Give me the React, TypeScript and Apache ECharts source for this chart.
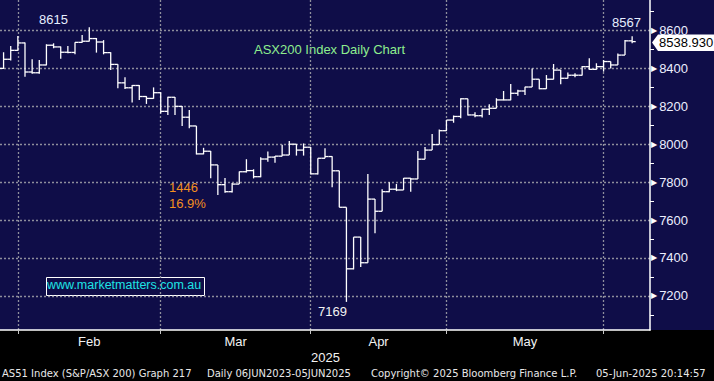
import React, { useEffect, useRef } from 'react';
import * as echarts from 'echarts';

const dates = [
  '2025-01-29', '2025-01-30', '2025-01-31',
  '2025-02-03', '2025-02-04', '2025-02-05', '2025-02-06', '2025-02-07', '2025-02-10', '2025-02-11', '2025-02-12', '2025-02-13', '2025-02-14',
  '2025-02-17', '2025-02-18', '2025-02-19', '2025-02-20', '2025-02-21', '2025-02-24', '2025-02-25', '2025-02-26', '2025-02-27', '2025-02-28',
  '2025-03-03', '2025-03-04', '2025-03-05', '2025-03-06', '2025-03-07', '2025-03-10', '2025-03-11', '2025-03-12', '2025-03-13', '2025-03-14',
  '2025-03-17', '2025-03-18', '2025-03-19', '2025-03-20', '2025-03-21', '2025-03-24', '2025-03-25', '2025-03-26', '2025-03-27', '2025-03-28', '2025-03-31',
  '2025-04-01', '2025-04-02', '2025-04-03', '2025-04-04', '2025-04-07', '2025-04-08', '2025-04-09', '2025-04-10', '2025-04-11',
  '2025-04-14', '2025-04-15', '2025-04-16', '2025-04-17', '2025-04-22', '2025-04-23', '2025-04-24', '2025-04-28', '2025-04-29', '2025-04-30',
  '2025-05-01', '2025-05-02', '2025-05-05', '2025-05-06', '2025-05-07', '2025-05-08', '2025-05-09', '2025-05-12', '2025-05-13', '2025-05-14',
  '2025-05-15', '2025-05-16', '2025-05-19', '2025-05-20', '2025-05-21', '2025-05-22', '2025-05-23', '2025-05-26', '2025-05-27', '2025-05-28',
  '2025-05-29', '2025-05-30',
  '2025-06-02', '2025-06-03', '2025-06-04', '2025-06-05',
];

const opens = [
  8398, 8446, 8493,
  8532, 8379, 8375, 8416, 8520, 8511, 8483, 8482, 8535, 8541,
  8555, 8537, 8481, 8419, 8322, 8296, 8308, 8250, 8240, 8270,
  8172, 8246, 8198, 8141, 8095, 7948, 7962, 7890, 7786, 7749,
  7789, 7854, 7860, 7828, 7921, 7931, 7936, 7942, 7999, 7968, 7983,
  7843, 7925, 7934, 7859, 7667, 7343, 7510, 7375, 7710,
  7646, 7749, 7762, 7758, 7820, 7816, 7920, 7968, 7997, 8070,
  8126, 8145, 8238, 8153, 8149, 8183, 8188, 8232, 8232, 8267,
  8279, 8300, 8341, 8291, 8341, 8389, 8346, 8362, 8362, 8407,
  8393, 8407,
  8434, 8416, 8468, 8543,
];

const highs = [
  8483, 8516, 8568,
  8534, 8446, 8442, 8525, 8530, 8513, 8516, 8536, 8574, 8615,
  8558, 8547, 8483, 8420, 8351, 8311, 8310, 8252, 8298, 8272,
  8249, 8248, 8200, 8179, 8095, 7980, 7963, 7890, 7821, 7795,
  7855, 7920, 7867, 7930, 7960, 7937, 7996, 8016, 8000, 8003, 7984,
  7925, 7978, 7936, 7859, 7667, 7510, 7510, 7842, 7710,
  7762, 7799, 7790, 7821, 7821, 7963, 7984, 8053, 8077, 8126,
  8150, 8241, 8238, 8167, 8186, 8209, 8241, 8279, 8316, 8286,
  8302, 8398, 8341, 8363, 8421, 8389, 8377, 8372, 8411, 8451,
  8425, 8442,
  8434, 8477, 8547, 8567,
];

const lows = [
  8395, 8440, 8490,
  8354, 8370, 8370, 8414, 8504, 8449, 8478, 8472, 8533, 8540,
  8481, 8472, 8389, 8293, 8290, 8218, 8232, 8211, 8238, 8161,
  8153, 8153, 8095, 8083, 7945, 7946, 7820, 7732, 7744, 7745,
  7789, 7850, 7819, 7825, 7907, 7902, 7935, 7942, 7939, 7939, 7840,
  7840, 7925, 7772, 7667, 7169, 7340, 7352, 7375, 7530,
  7646, 7746, 7752, 7758, 7749, 7816, 7920, 7968, 7997, 8068,
  8112, 8135, 8150, 8141, 8140, 8153, 8188, 8230, 8230, 8254,
  8258, 8300, 8288, 8290, 8340, 8314, 8345, 8351, 8360, 8391,
  8391, 8381,
  8398, 8416, 8468, 8530,
];

const closes = [
  8446, 8493, 8532,
  8379, 8375, 8416, 8520, 8511, 8483, 8482, 8535, 8541, 8555,
  8537, 8481, 8419, 8322, 8296, 8308, 8250, 8240, 8270, 8172,
  8246, 8198, 8141, 8095, 7948, 7962, 7890, 7786, 7749, 7789,
  7854, 7860, 7828, 7921, 7931, 7936, 7942, 7999, 7968, 7983, 7843,
  7925, 7934, 7859, 7667, 7343, 7510, 7375, 7710, 7646,
  7749, 7762, 7758, 7820, 7816, 7920, 7968, 7997, 8070, 8126,
  8145, 8238, 8153, 8149, 8183, 8188, 8232, 8232, 8267, 8279,
  8300, 8341, 8291, 8341, 8389, 8346, 8362, 8362, 8407, 8393,
  8407, 8434,
  8416, 8468, 8543, 8539,
];

// axis helpers
const monthEndIndex = [2, 22, 43, 62, 84];
const monthLabels = ['Feb', 'Mar', 'Apr', 'May'];
const monthLabelPos = [12, 32.5, 52.5, 73];
const majorTicks = [7200, 7400, 7600, 7800, 8000, 8200, 8400, 8600];
const minorTicks = [7100, 7300, 7500, 7700, 7900, 8100, 8300, 8500, 8700];
const yearLabel = '2025';
const lastPrice = '8538.930';
const highLabel = '8615';
const recentHighLabel = '8567';
const lowLabel = '7169';
const dropPoints = '1446';
const dropPercent = '16.9%';

const NAVY = '#0f0d48';
const GRID = '#8e8e9c';
const FONT = '"Liberation Sans", Arial, sans-serif';
const FOOT = '10px "DejaVu Sans", sans-serif';

export default function App() {
  const ref = useRef<HTMLDivElement>(null);

  useEffect(() => {
    if (!ref.current) return;
    const chart = echarts.init(ref.current, null, { renderer: 'svg' });
    const data = dates.map((d, i) => [i, opens[i], highs[i], lows[i], closes[i]]);
    const gridLine = { show: true, lineStyle: { color: GRID, type: [2, 2], width: 1.3 } };

    const option: any = {
      animation: false,
      backgroundColor: 'transparent',
      grid: { left: 0, top: 0, right: 64, bottom: 51, containLabel: false, outerBoundsMode: 'none' },
      xAxis: {
        type: 'value',
        min: -0.5,
        max: 90.5,
        axisLine: { show: true, onZero: false, lineStyle: { color: '#ffffff', width: 1.5 } },
        axisTick: { show: true, customValues: monthEndIndex, length: 4, lineStyle: { color: '#c8c8c8', width: 1 } },
        axisLabel: {
          customValues: monthLabelPos,
          formatter: (v: number) => {
            const k = monthLabelPos.indexOf(v);
            return k >= 0 ? monthLabels[k] : '';
          },
          color: '#f2f2f2',
          fontFamily: FONT,
          fontSize: 13,
          margin: 5,
        },
        splitLine: gridLine,
      },
      yAxis: [
        {
          type: 'value',
          position: 'right',
          min: 7021,
          max: 8758,
          axisLine: { show: true, onZero: false, lineStyle: { color: '#ffffff', width: 1.5 } },
          axisTick: { show: false, customValues: majorTicks },
          axisLabel: {
            customValues: majorTicks,
            margin: 1,
            formatter: (v: number) => '{t|▶}{v|' + v + '}',
            rich: {
              t: { color: '#ffffff', fontSize: 8, fontFamily: 'DejaVu Sans' },
              v: { color: '#eceeff', fontSize: 13, fontFamily: FONT, padding: [0, 0, 0, 2] },
            },
          },
          splitLine: gridLine,
        },
        {
          type: 'value',
          position: 'right',
          min: 7021,
          max: 8758,
          axisLine: { show: false, onZero: false },
          axisTick: { show: true, customValues: minorTicks, length: 4, lineStyle: { color: '#ffffff', width: 1 } },
          axisLabel: { show: false },
          splitLine: { show: false },
        },
      ],
      series: [
        {
          type: 'custom',
          xAxisIndex: 0,
          yAxisIndex: 0,
          encode: { x: 0, y: [1, 2, 3, 4] },
          data,
          clip: true,
          renderItem: (params: any, api: any) => {
            const x = api.value(0);
            const pO = api.coord([x, api.value(1)]);
            const pH = api.coord([x, api.value(2)]);
            const pL = api.coord([x, api.value(3)]);
            const pC = api.coord([x, api.value(4)]);
            const half = api.size([1, 0])[0] / 2;
            const style = { stroke: '#ffffff', lineWidth: 1.3, fill: 'none' };
            return {
              type: 'group',
              children: [
                { type: 'line', shape: { x1: pH[0], y1: pH[1], x2: pL[0], y2: pL[1] }, style },
                { type: 'line', shape: { x1: pO[0] - half, y1: pO[1], x2: pO[0], y2: pO[1] }, style },
                { type: 'line', shape: { x1: pC[0], y1: pC[1], x2: pC[0] + half, y2: pC[1] }, style },
              ],
            };
          },
        },
      ],
      graphic: [
        { type: 'text', left: 39, top: 13, style: { text: highLabel, fill: '#e6eeff', font: '13px ' + FONT } },
        { type: 'text', left: 612, top: 16, style: { text: recentHighLabel, fill: '#e6eeff', font: '13px ' + FONT } },
        { type: 'text', left: 318, top: 305, style: { text: lowLabel, fill: '#f2f2f2', font: '13px ' + FONT } },
        { type: 'text', left: 254, top: 43, style: { text: 'ASX200 Index Daily Chart', fill: '#8eee8e', font: '13px ' + FONT } },
        { type: 'text', left: 169, top: 181, style: { text: dropPoints, fill: '#f39020', font: '13px ' + FONT } },
        { type: 'text', left: 169, top: 197, style: { text: dropPercent, fill: '#f39020', font: '13px ' + FONT } },
        {
          type: 'rect', left: 44, top: 275,
          shape: { width: 158, height: 18 },
          style: { fill: 'none', stroke: '#ffffff', lineWidth: 1 },
        },
        { type: 'text', left: 47, top: 278, style: { text: 'www.marketmatters.com.au', fill: '#1ee4e4', font: '12.5px ' + FONT } },
        {
          type: 'polygon', z: 100,
          shape: { points: [[652, 42.5], [658, 34.5], [714, 34.5], [714, 51], [658, 51]] },
          style: { fill: '#ffffff' },
        },
        { type: 'text', z: 101, left: 659, top: 36, style: { text: lastPrice, fill: '#000000', font: '13px ' + FONT } },
        { type: 'text', left: 311, top: 351, style: { text: yearLabel, fill: '#f2f2f2', font: '13px ' + FONT } },
        { type: 'text', left: 2, top: 368, style: { text: 'AS51 Index (S&P/ASX 200) Graph 217', fill: '#e8e8e8', font: FOOT } },
        { type: 'text', left: 207, top: 368, style: { text: 'Daily 06JUN2023-05JUN2025', fill: '#e8e8e8', font: FOOT } },
        { type: 'text', left: 371, top: 368, style: { text: 'Copyright© 2025 Bloomberg Finance L.P.', fill: '#e8e8e8', font: FOOT } },
        { type: 'text', left: 596, top: 368, style: { text: '05-Jun-2025 20:14:57', fill: '#e8e8e8', font: FOOT } },
      ],
    };

    chart.setOption(option);
    return () => chart.dispose();
  }, []);

  return (
    <div
      style={{
        position: 'absolute',
        left: 0,
        top: 0,
        width: 714,
        height: 381,
        background: `linear-gradient(to bottom, ${NAVY} 0px, ${NAVY} 330px, #000000 330px, #000000 381px)`,
      }}
    >
      <div ref={ref} style={{ width: 714, height: 381 }} />
    </div>
  );
}
